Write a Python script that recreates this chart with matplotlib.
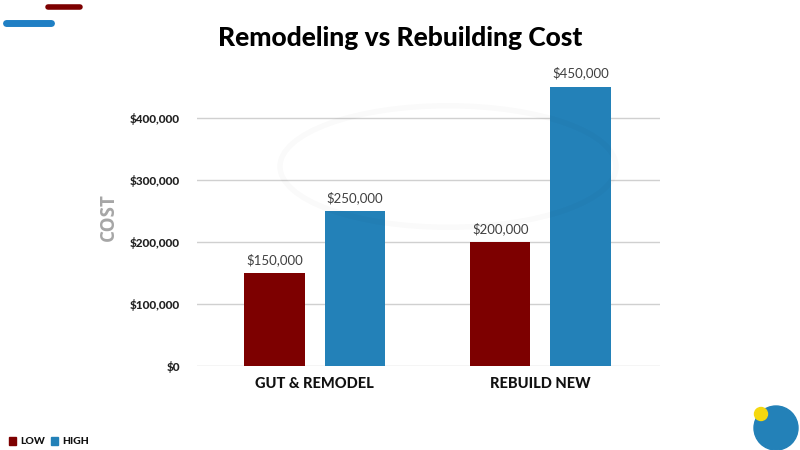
import matplotlib.pyplot as plt
import numpy as np
from matplotlib.patches import Circle, Ellipse
from matplotlib.ticker import FuncFormatter

categories = ["GUT & REMODEL", "REBUILD NEW"]
low_cost = [150000, 200000]
high_cost = [250000, 450000]
y_ticks = [0, 100000, 200000, 300000, 400000]

LOW_COLOR = "#7d0000"
HIGH_COLOR = "#2381b8"
FONT = ["Lato", "DejaVu Sans"]

plt.rcParams["font.family"] = FONT

fig = plt.figure(figsize=(8, 4.5), dpi=100)
ax = fig.add_axes([0.246, 0.187, 0.579, 0.662])

x = np.arange(len(categories))
w = 0.267
off = 0.178
b1 = ax.bar(x - off, low_cost, w, color=LOW_COLOR, zorder=3)
b2 = ax.bar(x + off, high_cost, w, color=HIGH_COLOR, zorder=3)

for bars in (b1, b2):
    for rect in bars:
        h = rect.get_height()
        ax.annotate(f"${h:,.0f}", (rect.get_x() + rect.get_width() / 2, h),
                    xytext=(0, 5), textcoords="offset points",
                    ha="center", va="bottom", fontsize=9.5, color="#404040")

ax.set_xlim(-0.522, 1.53)
ax.set_ylim(0, 480000)
ax.set_xticks(x)
ax.set_xticklabels(categories, fontsize=10.5, fontweight="black", color="#111111")
ax.set_yticks(y_ticks)
ax.yaxis.set_major_formatter(FuncFormatter(lambda v, p: f"${v:,.0f}"))
for lab in ax.get_yticklabels():
    lab.set_fontweight("black")
    lab.set_fontsize(8.5)
    lab.set_color("#222222")
ax.tick_params(axis="both", length=0)
ax.tick_params(axis="y", pad=12)
ax.tick_params(axis="x", pad=8)
ax.grid(axis="y", color="#d0d0d0", linewidth=1, zorder=0)
for s in ax.spines.values():
    s.set_visible(False)
ax.set_ylabel("COST", fontsize=13.5, fontweight="bold", color="#a6a6a6", labelpad=8,
              family=["Open Sans", "DejaVu Sans"])

# faint watermark ring
fig.patches.append(Ellipse((0.56, 0.63), 0.42, 0.27, transform=fig.transFigure,
                           fill=False, ec="#000000", alpha=0.02, lw=4))

fig.text(0.5, 0.915, "Remodeling vs Rebuilding Cost", ha="center", va="center",
         fontsize=19, fontweight="black", color="#000000")

# decorative strokes top-left
fig.add_artist(plt.Line2D([0.06, 0.1], [0.984, 0.984], color=LOW_COLOR, lw=4,
                          solid_capstyle="round", transform=fig.transFigure))
fig.add_artist(plt.Line2D([0.008, 0.064], [0.949, 0.949], color="#1f7fc4", lw=5,
                          solid_capstyle="round", transform=fig.transFigure))

# decorative circles bottom-right
fig.patches.append(Circle((776, 450 - 428), 22, transform=None, color="#2381b8"))
fig.patches.append(Circle((761, 450 - 414), 6.5, transform=None, color="#f5d80f"))

# legend bottom-left
fig.patches.append(plt.Rectangle((0.011, 0.012), 0.009, 0.016, transform=fig.transFigure,
                                 color=LOW_COLOR))
fig.text(0.025, 0.02, "LOW", fontsize=7.5, fontweight="black", va="center", color="#111111")
fig.patches.append(plt.Rectangle((0.064, 0.012), 0.009, 0.016, transform=fig.transFigure,
                                 color=HIGH_COLOR))
fig.text(0.078, 0.02, "HIGH", fontsize=7.5, fontweight="black", va="center", color="#111111")

fig.savefig("out.png", dpi=100)
